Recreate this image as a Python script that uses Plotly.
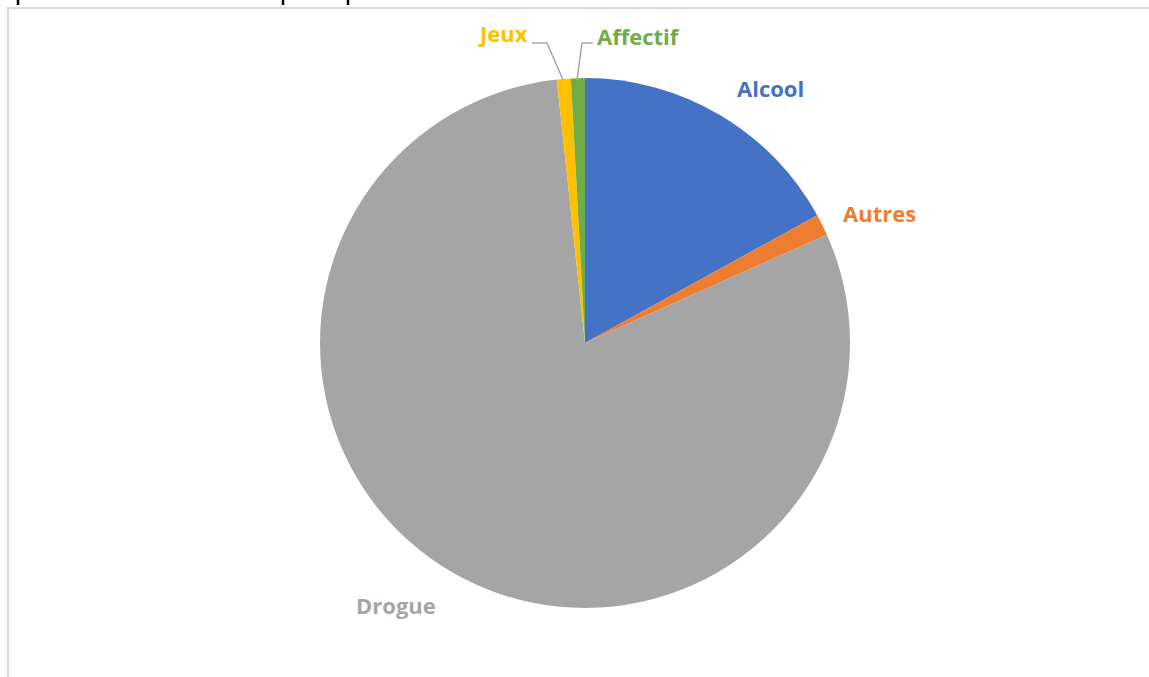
import plotly.graph_objects as go

categories = ["Alcool", "Autres", "Drogue", "Jeux", "Affectif"]
values = [17.0, 1.3, 80.0, 0.85, 0.85]
colors = ["#4472C4", "#ED7D31", "#A5A5A5", "#FFC000", "#70AD47"]

W, H = 1149, 677

def px(x):
    return x / W

def py(y):
    return 1 - y / H

fig = go.Figure(go.Pie(
    labels=categories,
    values=values,
    sort=False,
    direction="clockwise",
    rotation=0,
    marker=dict(colors=colors, line=dict(width=0)),
    textinfo="none",
    hoverinfo="label+percent",
    showlegend=False,
    domain=dict(x=[px(320), px(850)], y=[py(608), py(78)]),
))

label_pos = {
    "Alcool": (770, 88),
    "Autres": (879, 213),
    "Drogue": (396, 605),
    "Jeux": (503, 33),
    "Affectif": (638, 36),
}
annotations = []
for cat, col in zip(categories, colors):
    x, y = label_pos[cat]
    annotations.append(dict(
        x=px(x), y=py(y), xref="paper", yref="paper",
        text="<b>%s</b>" % cat, showarrow=False,
        font=dict(family="Open Sans", size=22, color=col),
        xanchor="center", yanchor="middle",
    ))

shapes = [
    # frame
    dict(type="line", xref="paper", yref="paper", x0=px(7), x1=px(1149), y0=py(8), y1=py(8),
         line=dict(color="#D9D9D9", width=2)),
    dict(type="line", xref="paper", yref="paper", x0=px(8), x1=px(8), y0=py(8), y1=py(677),
         line=dict(color="#D9D9D9", width=2)),
    # leader lines
    dict(type="path", xref="paper", yref="paper",
         path="M %f,%f L %f,%f L %f,%f" % (px(532), py(43), px(547), py(43), px(563), py(80)),
         line=dict(color="#A6A6A6", width=1.5)),
    dict(type="path", xref="paper", yref="paper",
         path="M %f,%f L %f,%f L %f,%f" % (px(593), py(43), px(582), py(43), px(577), py(80)),
         line=dict(color="#A6A6A6", width=1.5)),
]
# cropped title glyph fragments at the very top
for xx in (18, 283, 348):
    shapes.append(dict(type="line", xref="paper", yref="paper", x0=px(xx), x1=px(xx),
                       y0=py(0), y1=py(5), line=dict(color="#000000", width=2.5)))

fig.update_layout(
    width=W, height=H,
    margin=dict(l=0, r=0, t=0, b=0),
    paper_bgcolor="white",
    plot_bgcolor="white",
    annotations=annotations,
    shapes=shapes,
)

fig.write_html(
    "out.html",
    config={"displayModeBar": False},
    post_script="document.body.style.margin='0';document.body.style.overflow='hidden';",
)
